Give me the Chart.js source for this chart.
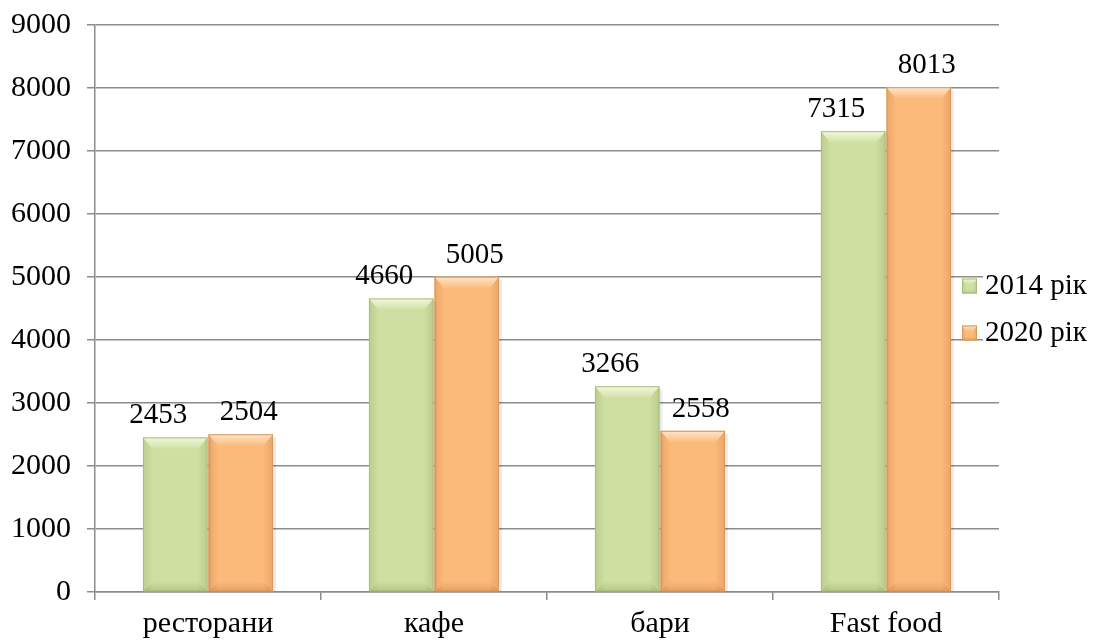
<!DOCTYPE html>
<html><head><meta charset="utf-8">
<script src="https://cdn.jsdelivr.net/npm/chart.js@4"></script>
<style>html,body{margin:0;padding:0;background:#fff}#wrap{width:1100px;height:644px}</style>
</head><body><div id="wrap"><canvas id="c" width="1100" height="644"></canvas></div>
<script>
const categories = ['ресторани', 'кафе', 'бари', 'Fast food'];
const series2014 = [2453, 4660, 3266, 7315];
const series2020 = [2504, 5005, 2558, 8013];
const seriesNames = ['2014 рік', '2020 рік'];
const yMin = 0, yMax = 9000, yStep = 1000;

const FONT = "'Liberation Serif', 'Times New Roman', serif";
const GRID = '#8c8c8c';
const styles = [
  {fill: '#cfdfa2', border: '#a9bc7c', light: '#f2f8dc', dark: 'rgba(110,130,60,', labelDx: -17},
  {fill: '#fbb97a', border: '#d9985d', light: '#fee6c8', dark: 'rgba(170,95,35,', labelDx: 8}
];

function bevel(ctx, l, t, r, b, st, bw) {
  ctx.save();
  let gl = ctx.createLinearGradient(l, 0, l + bw, 0);
  gl.addColorStop(0, st.dark + '0.20)'); gl.addColorStop(1, st.dark + '0)');
  ctx.fillStyle = gl; ctx.fillRect(l, t, bw, b - t);
  let gr = ctx.createLinearGradient(r, 0, r - bw, 0);
  gr.addColorStop(0, st.dark + '0.22)'); gr.addColorStop(1, st.dark + '0)');
  ctx.fillStyle = gr; ctx.fillRect(r - bw, t, bw, b - t);
  let gb = ctx.createLinearGradient(0, b, 0, b - bw);
  gb.addColorStop(0, st.dark + '0.25)'); gb.addColorStop(1, st.dark + '0)');
  ctx.fillStyle = gb;
  ctx.beginPath(); ctx.moveTo(l, b); ctx.lineTo(l + bw, b - bw); ctx.lineTo(r - bw, b - bw); ctx.lineTo(r, b); ctx.closePath(); ctx.fill();
  const g = ctx.createLinearGradient(0, t, 0, t + bw + 2);
  g.addColorStop(0, st.light); g.addColorStop(1, st.fill);
  ctx.fillStyle = g;
  ctx.beginPath(); ctx.moveTo(l, t); ctx.lineTo(r, t); ctx.lineTo(r - bw, t + bw + 2); ctx.lineTo(l + bw, t + bw + 2); ctx.closePath(); ctx.fill();
  ctx.strokeStyle = st.border; ctx.lineWidth = 1;
  ctx.strokeRect(l + 0.5, t + 0.5, r - l - 1, b - t - 1);
  ctx.restore();
}

const bevelPlugin = {
  id: 'bevel',
  afterDatasetsDraw(chart) {
    const ctx = chart.ctx;
    chart.data.datasets.forEach((ds, di) => {
      const meta = chart.getDatasetMeta(di);
      meta.data.forEach(el => {
        const p = el.getProps(['x', 'y', 'width', 'base'], true);
        ctx.save();
        ctx.fillStyle = 'rgba(0,0,0,0.08)';
        ctx.fillRect(p.x + p.width / 2, p.y + 3, 3, p.base - p.y - 3);
        ctx.restore();
        bevel(ctx, p.x - p.width / 2, p.y, p.x + p.width / 2, p.base, styles[di], 10);
      });
    });
  }
};

const labelPlugin = {
  id: 'vals',
  afterDatasetsDraw(chart) {
    const ctx = chart.ctx;
    ctx.save();
    ctx.font = '29px ' + FONT;
    ctx.fillStyle = '#000';
    ctx.textAlign = 'center';
    ctx.textBaseline = 'alphabetic';
    chart.data.datasets.forEach((ds, di) => {
      const meta = chart.getDatasetMeta(di);
      meta.data.forEach((el, i) => {
        ctx.fillText(String(ds.data[i]), el.x + styles[di].labelDx, el.y - 14);
      });
    });
    ctx.restore();
  }
};

const legendPlugin = {
  id: 'sideLegend',
  afterDraw(chart) {
    const ctx = chart.ctx, a = chart.chartArea;
    const cy = (a.top + a.bottom) / 2;
    ctx.save();
    ctx.font = '29px ' + FONT;
    ctx.textBaseline = 'middle';
    ctx.textAlign = 'left';
    chart.data.datasets.forEach((ds, di) => {
      const y = cy - 23 + di * 47;
      ctx.fillStyle = '#fff';
      ctx.fillRect(a.right - 16, y - 17, chart.width - a.right + 16, 34);
      const st = styles[di];
      ctx.fillStyle = st.fill;
      ctx.fillRect(a.right - 37, y - 7, 15, 15);
      bevel(ctx, a.right - 37, y - 7, a.right - 22, y + 8, st, 4);
      ctx.fillStyle = '#000';
      ctx.fillText(ds.label, a.right - 14, y + 1);
    });
    ctx.restore();
  }
};

new Chart(document.getElementById('c'), {
  type: 'bar',
  data: {
    labels: categories,
    datasets: [
      {label: seriesNames[0], data: series2014, backgroundColor: styles[0].fill, borderWidth: 0},
      {label: seriesNames[1], data: series2020, backgroundColor: styles[1].fill, borderWidth: 0}
    ]
  },
  options: {
    responsive: false,
    animation: false,
    events: [],
    layout: {padding: {top: 25, right: 101, bottom: 0, left: 0}},
    datasets: {bar: {categoryPercentage: 0.58, barPercentage: 0.985}},
    plugins: {legend: {display: false}, tooltip: {enabled: false}},
    scales: {
      x: {
        offset: true,
        grid: {display: true, drawOnChartArea: false, offset: true, color: GRID, tickLength: 8, lineWidth: 1.5},
        border: {color: GRID, width: 1.5},
        ticks: {font: {family: FONT, size: 30}, color: '#000', padding: 6, maxRotation: 0},
        afterFit(s) { s.height = 52; s.paddingLeft = 0; s.paddingRight = 0; }
      },
      y: {
        min: yMin, max: yMax,
        grid: {color: GRID, tickLength: 8, lineWidth: 1.5},
        border: {color: GRID, width: 1.5},
        ticks: {stepSize: yStep, font: {family: FONT, size: 30}, color: '#000', padding: 16,
                callback: v => String(v)},
        afterFit(s) { s.width = 95; s.paddingTop = 0; s.paddingBottom = 0; }
      }
    }
  },
  plugins: [bevelPlugin, labelPlugin, legendPlugin]
});
</script>
</body></html>
